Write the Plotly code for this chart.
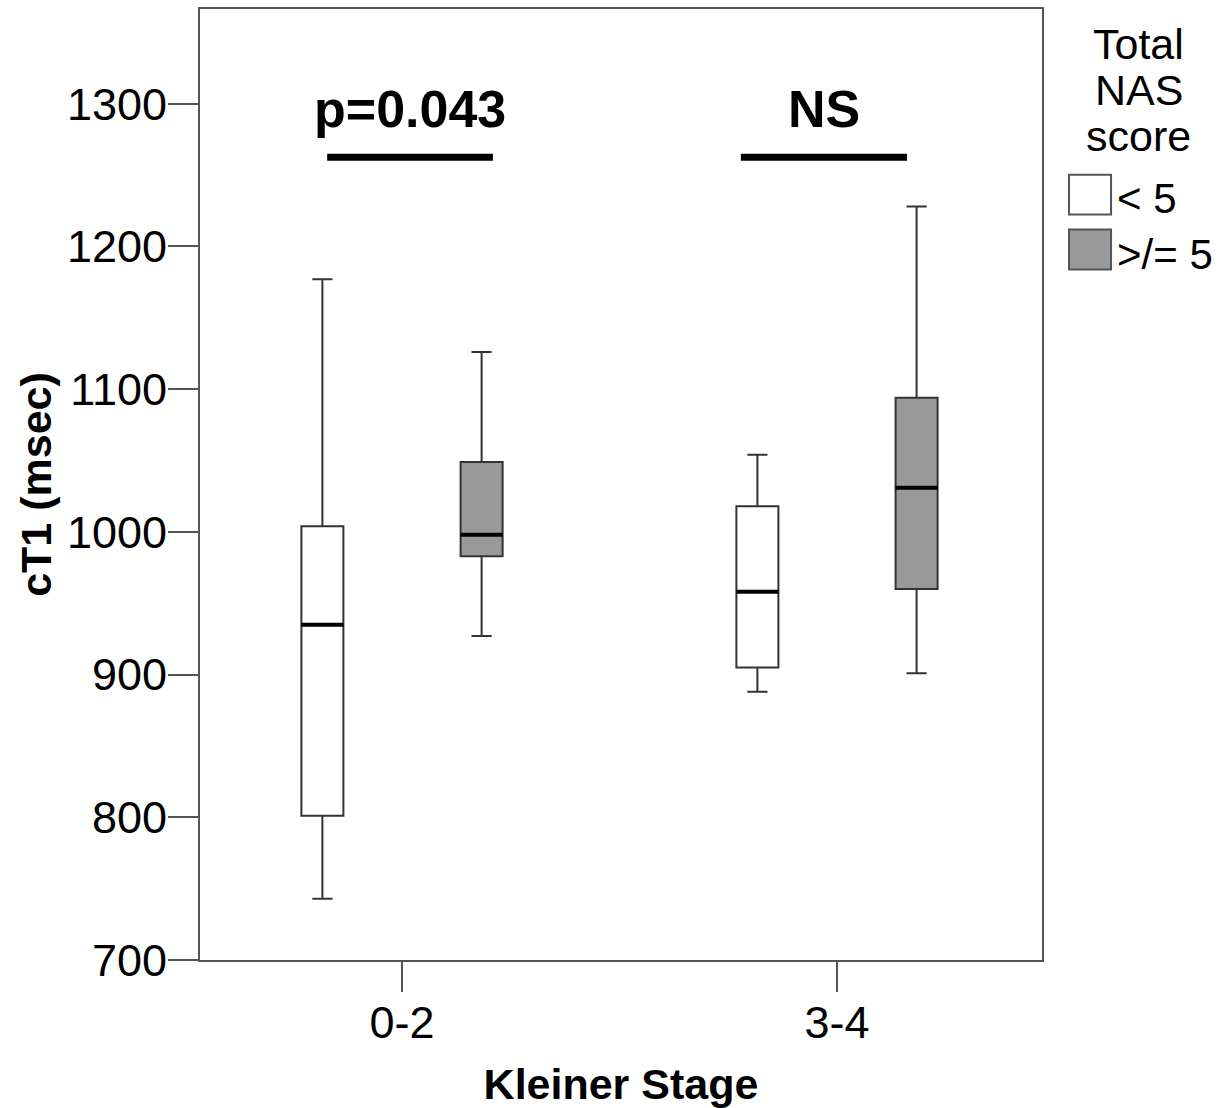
import plotly.graph_objects as go

# Kleiner fibrosis stage groups on the x axis
categories = ["0-2", "3-4"]
nas_groups = ["< 5", ">/= 5"]

# Box-plot summaries of cT1 (msec) per NAS group, one value per Kleiner stage
lt5_low = [743, 888]
lt5_q1 = [801, 905]
lt5_median = [935, 958]
lt5_q3 = [1004, 1018]
lt5_high = [1177, 1054]

ge5_low = [927, 901]
ge5_q1 = [983, 960]
ge5_median = [998, 1031]
ge5_q3 = [1049, 1094]
ge5_high = [1126, 1228]

# Significance labels above each stage
sig_labels = ["p=0.043", "NS"]

y_ticks = [700, 800, 900, 1000, 1100, 1200, 1300]

FONT = "Liberation Sans, Arial, sans-serif"
GRAY_FILL = "#999999"
OFFSET = 0.183
BOX_W = 0.0966

fig = go.Figure()

groups = [
    (nas_groups[0], -OFFSET, "#ffffff", lt5_low, lt5_q1, lt5_median, lt5_q3, lt5_high),
    (nas_groups[1], OFFSET, GRAY_FILL, ge5_low, ge5_q1, ge5_median, ge5_q3, ge5_high),
]

for name, off, fill, lo, q1, med, q3, hi in groups:
    xs = [i + off for i in range(len(categories))]
    fig.add_trace(go.Box(
        name=name, x=xs,
        lowerfence=lo, q1=q1, median=med, q3=q3, upperfence=hi,
        width=BOX_W, whiskerwidth=0.48,
        fillcolor=fill, line=dict(color="#333333", width=2),
        showlegend=False, hoverinfo="skip",
    ))
    # heavier median bar drawn on top of each box
    fig.add_trace(go.Box(
        name=name + " median", x=xs,
        lowerfence=med, q1=med, median=med, q3=med, upperfence=med,
        width=BOX_W, whiskerwidth=0,
        fillcolor="rgba(0,0,0,0)", line=dict(color="#000000", width=4),
        showlegend=False, hoverinfo="skip",
    ))

# Significance bars and labels
sig_y_text = 1296
sig_y_line = 1262.5
sig_spans = [(-0.172, 0.209), (0.779, 1.161)]
for label, (x0, x1) in zip(sig_labels, sig_spans):
    fig.add_shape(type="line", xref="x", yref="y", x0=x0, x1=x1,
                  y0=sig_y_line, y1=sig_y_line,
                  line=dict(color="#000000", width=7))
    fig.add_annotation(x=(x0 + x1) / 2, y=sig_y_text, xref="x", yref="y",
                       text=f"<b>{label}</b>", showarrow=False,
                       font=dict(family=FONT, size=52, color="#000000"),
                       xanchor="center", yanchor="middle")

# Legend: title and swatches at the right of the plot
title_lines = ["Total", "NAS", "score"]
title_y = [0.9633, 0.9150, 0.8667]
for txt, yy in zip(title_lines, title_y):
    fig.add_annotation(x=1.1152, y=yy, xref="paper", yref="paper", text=txt,
                       showarrow=False, xanchor="center", yanchor="middle",
                       height=42, valign="middle",
                       font=dict(family=FONT, size=43, color="#000000"))

swatches = [(nas_groups[0], "#ffffff", 0.8258, 0.7838, 0.8006),
            (nas_groups[1], GRAY_FILL, 0.7681, 0.7261, 0.7419)]
for label, fill, y1, y0, ylab in swatches:
    fig.add_shape(type="rect", xref="paper", yref="paper",
                  x0=1.0321, x1=1.0820, y0=y0, y1=y1,
                  fillcolor=fill, line=dict(color="#555555", width=2))
    fig.add_annotation(x=1.0867, y=ylab, xref="paper", yref="paper",
                       text=label, showarrow=False, xanchor="left",
                       yanchor="middle",
                       font=dict(family=FONT, size=42, color="#000000"))

axis_common = dict(showline=True, mirror=True, linecolor="#555555",
                   linewidth=2, ticks="outside", tickcolor="#555555",
                   tickwidth=2, ticklen=30, showgrid=False, zeroline=False,
                   ticklabelstandoff=-8,
                   tickfont=dict(family=FONT, size=45, color="#000000"))

fig.update_layout(
    width=1222, height=1108,
    margin=dict(l=200, r=180, t=7, b=148),
    paper_bgcolor="#ffffff", plot_bgcolor="#ffffff",
    boxmode="overlay",
    showlegend=False,
    xaxis=dict(
        range=[-0.4644, 1.4713],
        tickmode="array", tickvals=list(range(len(categories))),
        ticktext=categories,
        title=dict(text="<b>Kleiner Stage</b>", standoff=22,
                   font=dict(family=FONT, size=43, color="#000000")),
        **axis_common,
    ),
    yaxis=dict(
        range=[700, 1366.4],
        tickmode="array", tickvals=y_ticks,
        title=dict(text="<b>cT1 (msec)</b>", standoff=2,
                   font=dict(family=FONT, size=43, color="#000000")),
        **axis_common,
    ),
)

fig.write_html("out.html")
